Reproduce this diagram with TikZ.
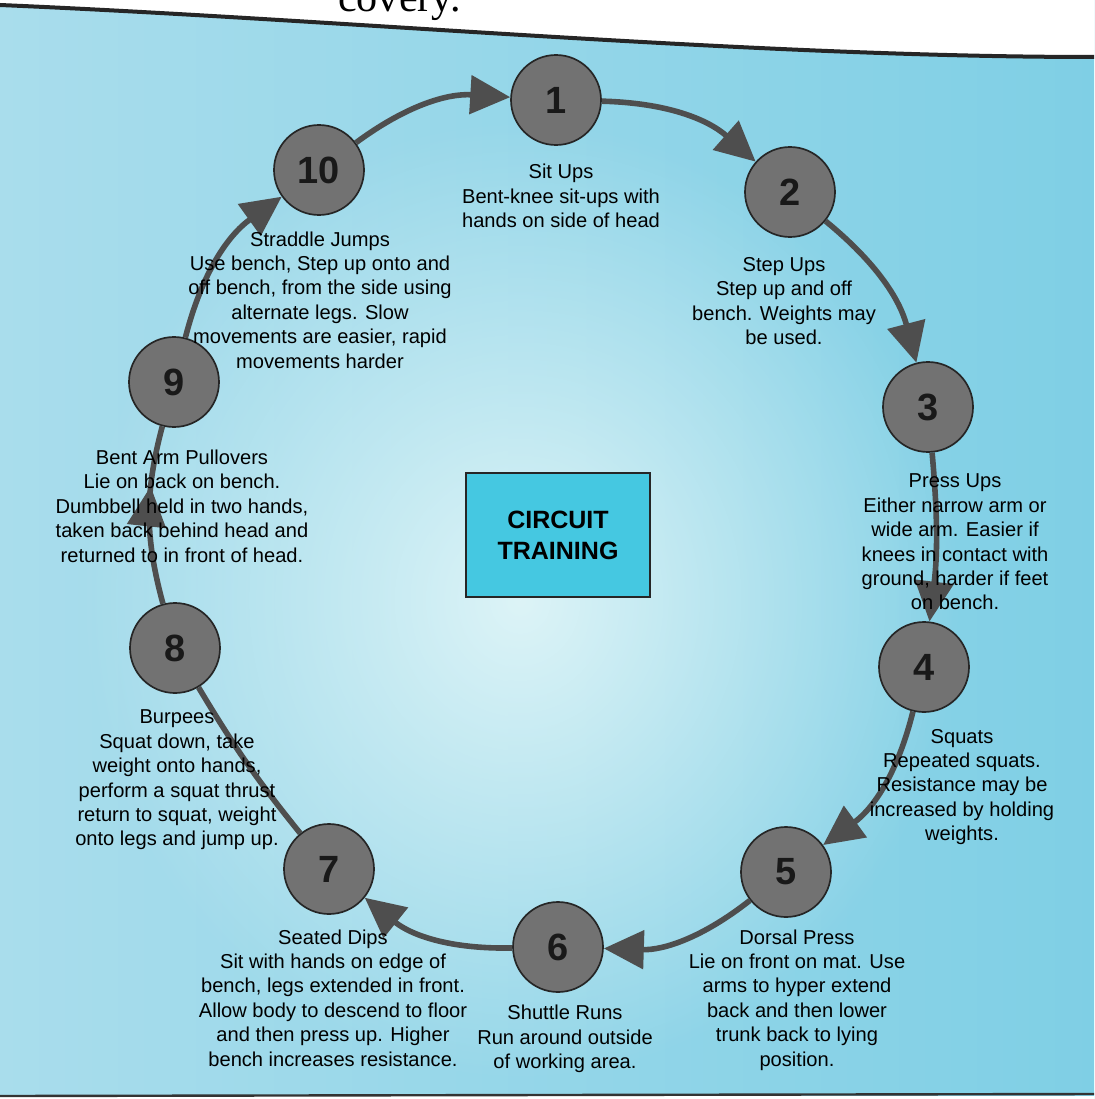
\documentclass[tikz,border=0pt]{standalone}
\usepackage{tikz}
\usetikzlibrary{positioning, arrows.meta, decorations.markings, fadings}
\usepackage{fontspec}
\setmainfont{Liberation Sans}
\newfontfamily\bookfont{Liberation Serif}
\usepackage{xcolor}
\definecolor{skyblue}{HTML}{A9DDEC}
\definecolor{deepblue}{HTML}{7FCFE5}
\definecolor{paleblue}{HTML}{DDF4F7}
\definecolor{boxcyan}{HTML}{45C8E1}
\definecolor{stationgrey}{HTML}{727272}
\definecolor{linegrey}{HTML}{4E4E4E}
\tikzfading[name=softspot, inner color=transparent!0, outer color=transparent!100]

\begin{document}
\begin{tikzpicture}[x=0.25mm, y=-0.25mm,
    station/.style={circle, draw=black!85, line width=1.2pt, fill=stationgrey, minimum size=22.5mm, inner sep=0pt,
        text=black!90, font=\fontsize{27}{27}\selectfont\bfseries},
    info/.style={align=center, inner sep=0pt, font=\fontsize{14.3}{17.4}\selectfont},
    flow/.style={draw=linegrey, line width=1.4mm, -{Triangle[length=10mm, width=9.5mm]}}]
    \useasboundingbox (0,0) rectangle (1094,1099);

    % Page background
    \shade[left color=skyblue, right color=deepblue] (0,0) rectangle (1094,1099);
    \fill[paleblue, path fading=softspot] (80,120) rectangle (960,1080);
    \fill[white] (0,0) -- (1094,0) -- (1094,57) .. controls (750,57) and (350,20) .. (0,5) -- cycle;
    \draw[line width=1mm, black!85] (0,5) .. controls (350,20) and (750,57) .. (1094,57);
    \fill[white] (0,1096) rectangle (1094,1099);
    \draw[line width=0.6mm, black!80] (0,1096) -- (1094,1094);
    \node[anchor=base east, inner sep=0pt, font=\bookfont\fontsize{30}{30}\selectfont] (topline) at (461,12) {covery.};

    % Define the 10 stations
    \node[station] (s1) at (556,100) {1};
    \node[station] (s2) at (790,192) {2};
    \node[station] (s3) at (928,407) {3};
    \node[station] (s4) at (924,667) {4};
    \node[station] (s5) at (786,872) {5};
    \node[station] (s6) at (558,947) {6};
    \node[station] (s7) at (329,869) {7};
    \node[station] (s8) at (175,648) {8};
    \node[station] (s9) at (174,382) {9};
    \node[station] (s10) at (319,170) {10};

    % Centre box
    \node[draw=black!85, line width=1pt, fill=boxcyan, minimum width=46mm, minimum height=31mm, align=center,
        font=\fontsize{17.8}{22}\selectfont\bfseries] (title) at (558,535) {CIRCUIT\\TRAINING};

    % Draw the circuit (curved arrows)
    \begin{scope}[flow]
        \draw (s1) to[bend left=20] (s2);
        \draw (s2) to[bend left=18] (s3);
        \draw (s3) to[bend left=6] (s4);
        \draw (s4) to[bend left=20] (s5);
        \draw (s5) to[bend left=20] (s6);
        \draw (s6) to[bend left=20] (s7);
        \draw[-] (s7) to[bend left=4] (s8); % no head here
        \draw[-, postaction={decorate}, decoration={markings,
            mark=at position 0.66 with {\arrow[color=linegrey]{Triangle[length=10mm, width=9.5mm]}}}]
            (s8) to[bend left=15] (s9);
        \draw (s9) to[bend left=20] (s10);
        \draw (s10) to[bend left=20] (s1);
    \end{scope}

    % Exercise descriptions
    \node[info] (t1) at (561,196) {Sit Ups\\Bent-knee sit-ups with\\hands on side of head};
    \node[info] (t2) at (784,301) {Step Ups\\Step up and off\\bench. Weights may\\be used.};
    \node[info] (t3) at (955,542) {Press Ups\\Either narrow arm or\\wide arm. Easier if\\knees in contact with\\ground, harder if feet\\on bench.};
    \node[info] (t4) at (962,787) {Squats\\Repeated squats.\\Resistance may be\\increased by holding\\weights.};
    \node[info] (t5) at (797,1000) {Dorsal Press\\Lie on front on mat. Use\\arms to hyper extend\\back and then lower\\trunk back to lying\\position.};
    \node[info] (t6) at (565,1039) {Shuttle Runs\\Run around outside\\of working area.};
    \node[info] (t7) at (333,998) {Seated Dips\\Sit with hands on edge of\\bench, legs extended in front.\\Allow body to descend to floor\\and then press up. Higher\\bench increases resistance.};
    \node[info] (t8) at (177,780) {Burpees\\Squat down, take\\weight onto hands,\\perform a squat thrust\\return to squat, weight\\onto legs and jump up.};
    \node[info] (t9) at (182,506) {Bent Arm Pullovers\\Lie on back on bench.\\Dumbbell held in two hands,\\taken back behind head and\\returned to in front of head.};
    \node[info] (t10) at (320,300) {Straddle Jumps\\Use bench, Step up onto and\\off bench, from the side using\\alternate legs. Slow\\movements are easier, rapid\\movements harder};
\end{tikzpicture}
\end{document}
